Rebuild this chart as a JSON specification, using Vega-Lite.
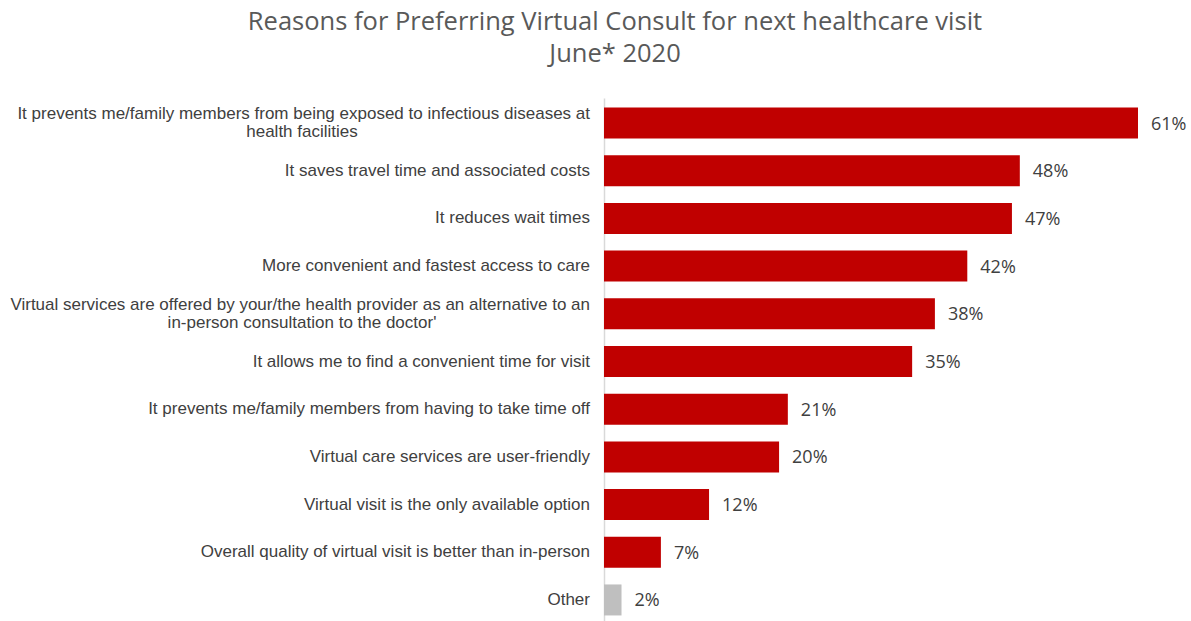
{
  "$schema": "https://vega.github.io/schema/vega-lite/v6.json",
  "autosize": {"type": "none"},
  "width": 534,
  "height": 527,
  "padding": {"left": 604, "top": 98, "right": 53, "bottom": 0},
  "background": "white",
  "title": {
    "text": ["Reasons for Preferring Virtual Consult for next healthcare visit", "June* 2020"],
    "font": "Open Sans",
    "fontSize": 25.5,
    "fontWeight": "normal",
    "color": "#595959",
    "anchor": "middle",
    "dx": -256,
    "lineHeight": 32,
    "offset": 31
  },
  "config": {"view": {"stroke": null}},
  "data": {
    "values": [
      {"reason": "It prevents me/family members from being exposed to infectious diseases at health facilities", "line1": "It prevents me/family members from being exposed to infectious diseases at", "line2": "health facilities", "value": 61, "label": "61%", "group": "main"},
      {"reason": "It saves travel time and associated costs", "line1": "It saves travel time and associated costs", "line2": "", "value": 47.5, "label": "48%", "group": "main"},
      {"reason": "It reduces wait times", "line1": "It reduces wait times", "line2": "", "value": 46.6, "label": "47%", "group": "main"},
      {"reason": "More convenient and fastest access to care", "line1": "More convenient and fastest access to care", "line2": "", "value": 41.5, "label": "42%", "group": "main"},
      {"reason": "Virtual services are offered by your/the health provider as an alternative to an in-person consultation to the doctor'", "line1": "Virtual services are offered by your/the health provider as an alternative to an", "line2": "in-person consultation to the doctor'", "value": 37.8, "label": "38%", "group": "main"},
      {"reason": "It allows me to find a convenient time for visit", "line1": "It allows me to find a convenient time for visit", "line2": "", "value": 35.2, "label": "35%", "group": "main"},
      {"reason": "It prevents me/family members from having to take time off", "line1": "It prevents me/family members from having to take time off", "line2": "", "value": 21, "label": "21%", "group": "main"},
      {"reason": "Virtual care services are user-friendly", "line1": "Virtual care services are user-friendly", "line2": "", "value": 20, "label": "20%", "group": "main"},
      {"reason": "Virtual visit is the only available option", "line1": "Virtual visit is the only available option", "line2": "", "value": 12, "label": "12%", "group": "main"},
      {"reason": "Overall quality of virtual visit is better than in-person", "line1": "Overall quality of virtual visit is better than in-person", "line2": "", "value": 6.5, "label": "7%", "group": "main"},
      {"reason": "Other", "line1": "Other", "line2": "", "value": 2, "label": "2%", "group": "other"}
    ]
  },
  "encoding": {
    "y": {
      "field": "reason",
      "type": "nominal",
      "sort": [
        "It prevents me/family members from being exposed to infectious diseases at health facilities",
        "It saves travel time and associated costs",
        "It reduces wait times",
        "More convenient and fastest access to care",
        "Virtual services are offered by your/the health provider as an alternative to an in-person consultation to the doctor'",
        "It allows me to find a convenient time for visit",
        "It prevents me/family members from having to take time off",
        "Virtual care services are user-friendly",
        "Virtual visit is the only available option",
        "Overall quality of virtual visit is better than in-person",
        "Other"
      ],
      "scale": {"paddingInner": 0.35, "paddingOuter": 0.2},
      "axis": {
        "title": null,
        "labels": false,
        "ticks": false,
        "grid": false,
        "domainColor": "#d9d9d9",
        "domainWidth": 1.5
      }
    }
  },
  "layer": [
    {
      "mark": {"type": "bar"},
      "encoding": {
        "x": {"field": "value", "type": "quantitative", "scale": {"domain": [0, 61], "nice": false}, "axis": null},
        "color": {"field": "group", "type": "nominal", "scale": {"domain": ["main", "other"], "range": ["#C00000", "#BFBFBF"]}, "legend": null}
      }
    },
    {
      "mark": {"type": "text", "align": "left", "baseline": "middle", "dx": 13, "dy": 1.5, "font": "Open Sans", "fontSize": 18, "color": "#404040"},
      "encoding": {
        "x": {"field": "value", "type": "quantitative"},
        "text": {"field": "label"}
      }
    },
    {
      "transform": [{"filter": "datum.line2 == ''"}],
      "mark": {"type": "text", "align": "right", "baseline": "middle", "dx": -14, "font": "Liberation Sans", "fontSize": 17, "color": "#404040"},
      "encoding": {
        "x": {"datum": 0, "type": "quantitative"},
        "text": {"field": "line1"}
      }
    },
    {
      "transform": [{"filter": "datum.line2 != ''"}],
      "mark": {"type": "text", "align": "right", "baseline": "middle", "dx": -14, "dy": -9, "font": "Liberation Sans", "fontSize": 17, "color": "#404040"},
      "encoding": {
        "x": {"datum": 0, "type": "quantitative"},
        "text": {"field": "line1"}
      }
    },
    {
      "transform": [{"filter": "datum.line2 != ''"}],
      "mark": {"type": "text", "align": "center", "baseline": "middle", "dx": -302, "dy": 9, "font": "Liberation Sans", "fontSize": 17, "color": "#404040"},
      "encoding": {
        "x": {"datum": 0, "type": "quantitative"},
        "text": {"field": "line2"}
      }
    }
  ]
}
